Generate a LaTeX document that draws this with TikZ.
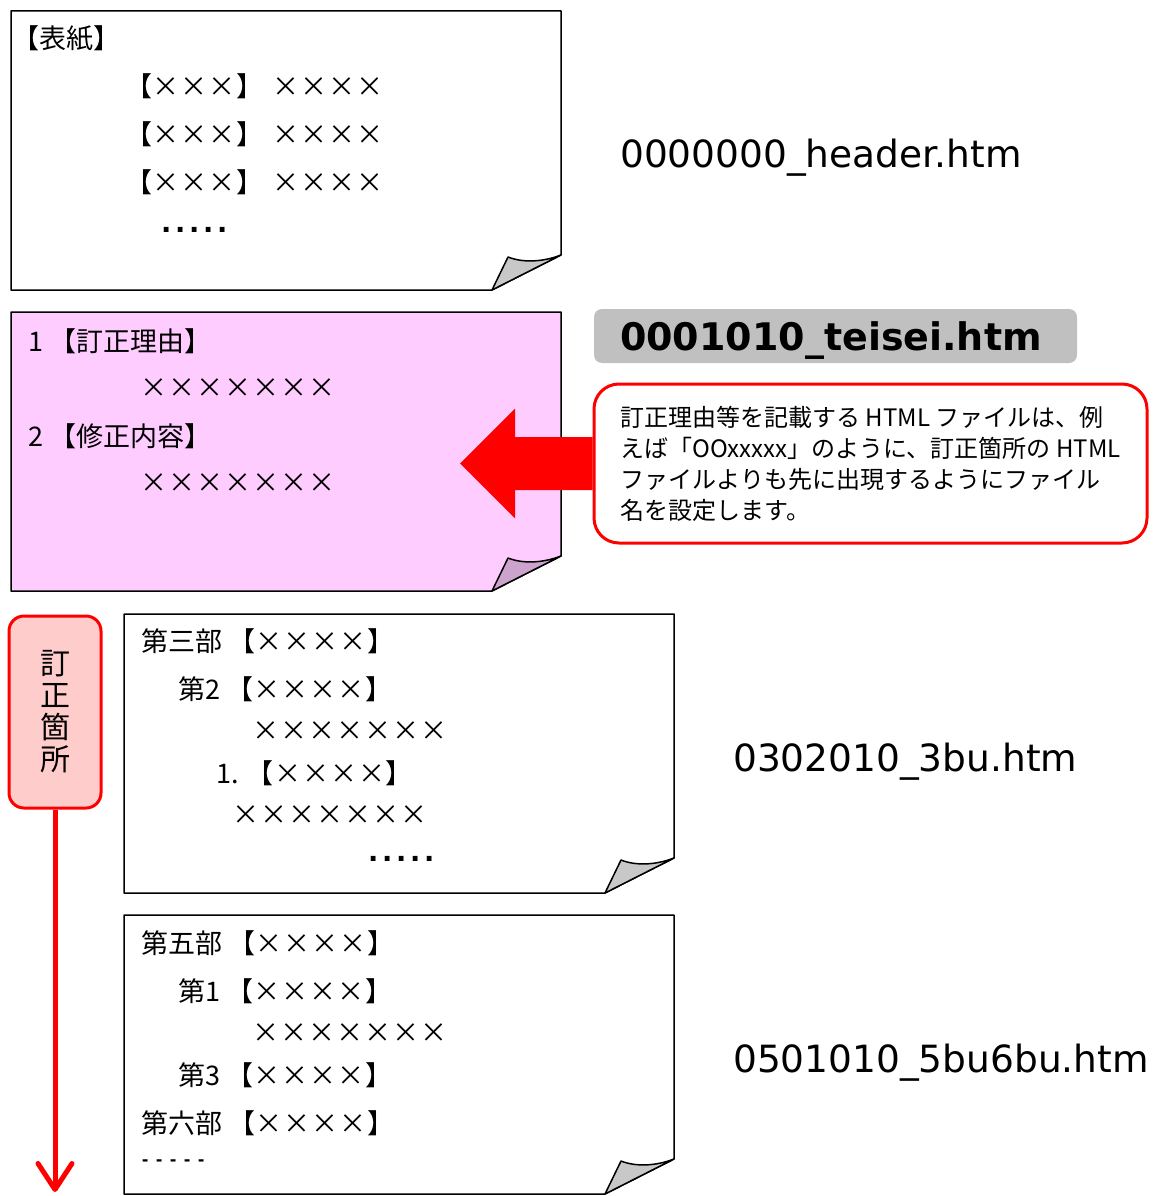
\documentclass[tikz,border=0pt]{standalone}
\usepackage{fontspec}
\setmainfont{DejaVu Sans}
\newfontfamily\jpfont{Noto Sans CJK JP}
\usetikzlibrary{arrows.meta, calc, positioning}
\definecolor{notered}{RGB}{255,0,0}
\definecolor{pagepink}{RGB}{255,204,255}
\definecolor{foldpink}{RGB}{204,163,204}
\definecolor{foldgray}{RGB}{200,200,200}
\definecolor{tagpink}{RGB}{255,204,204}
\definecolor{namegray}{RGB}{192,192,192}
\tikzset{
  pageline/.style={anchor=west, inner sep=0pt, font=\jpfont\fontsize{27}{30}\selectfont},
  filename/.style={anchor=west, inner sep=0pt, text depth=0pt, font=\fontsize{37.5}{40}\selectfont},
  namebox/.style={rectangle, rounded corners=8pt, fill=namegray, minimum width=483pt, minimum height=54pt, inner sep=0pt, text depth=0pt, text width=431pt, align=left, font=\bfseries\fontsize{38}{40}\selectfont},
  notebox/.style={rectangle, rounded corners=25pt, draw=notered, line width=3pt, fill=white, minimum width=553pt, minimum height=159pt, align=left, inner sep=0pt, font=\jpfont\fontsize{24}{31}\selectfont},
  tagbox/.style={rectangle, rounded corners=15pt, draw=notered, line width=3pt, fill=tagpink, minimum width=92pt, minimum height=192pt, align=center, inner sep=0pt, font=\jpfont\fontsize{30}{32}\selectfont},
  pageedge/.style={draw=black, line width=1.5pt, line join=round},
}
% one sheet with a curled corner
\newcommand{\docpage}[3]{%
  \begin{scope}[shift={(#1)}]
    \filldraw[pageedge, fill=#2] (0,0) -- (550,0) -- (550,244) -- (481,279) -- (0,279) -- cycle;
    \filldraw[pageedge, fill=#3] (481,279) -- (497,246) .. controls (512,252) and (532,251) .. (550,244) -- cycle;
  \end{scope}}
\newcommand{\xs}[1]{\foreach \k in {1,...,#1}{\makebox[28pt]{×}}}
\newcommand{\dotrow}[2]{\foreach \k in {1,...,#2}{\makebox[14pt]{#1}}}
\begin{document}
\begin{tikzpicture}[x=1pt, y=-1pt]
  \useasboundingbox (0,0) rectangle (1153,1196);
  % sheets
  \docpage{11,11}{white}{foldgray}
  \docpage{11,312}{pagepink}{foldpink}
  \docpage{124,614}{white}{foldgray}
  \docpage{124,915}{white}{foldgray}
  % cover
  \node (cover) [pageline] at (12,38) {【表紙】};
  \node (cov1) [pageline] at (125,86) {【\xs{3}】\hspace*{9pt}\xs{4}};
  \node (cov2) [pageline] at (125,134) {【\xs{3}】\hspace*{9pt}\xs{4}};
  \node (cov3) [pageline] at (125,182) {【\xs{3}】\hspace*{9pt}\xs{4}};
  \node (covdots) [pageline] at (159,230) {\dotrow{\normalfont\bfseries .}{5}};
  % correction sheet
  \node (reason) [pageline] at (28,341) {1 【訂正理由】};
  \node (reasonx) [pageline] at (140,388) {\xs{7}};
  \node (change) [pageline] at (28,436) {2 【修正内容】};
  \node (changex) [pageline] at (140,483) {\xs{7}};
  % part 3
  \node (bu3) [pageline] at (141,641) {第三部 【\xs{4}】};
  \node (bu3a) [pageline] at (178,689) {第2 【\xs{4}】};
  \node (bu3b) [pageline] at (252,731) {\xs{7}};
  \node (bu3c) [pageline] at (216,773) {1. 【\xs{4}】};
  \node (bu3d) [pageline] at (232,815) {\xs{7}};
  \node (bu3dots) [pageline] at (366,859) {\dotrow{\normalfont\bfseries .}{5}};
  % parts 5 and 6
  \node (bu5) [pageline] at (141,943) {第五部 【\xs{4}】};
  \node (bu5a) [pageline] at (178,991) {第1 【\xs{4}】};
  \node (bu5b) [pageline] at (252,1033) {\xs{7}};
  \node (bu5c) [pageline] at (178,1075) {第3 【\xs{4}】};
  \node (bu6) [pageline] at (141,1123) {第六部 【\xs{4}】};
  \node (bu6dots) [pageline] at (138,1163) {\dotrow{\normalfont\bfseries\fontsize{16}{16}\selectfont -}{5}};
  % file names
  \node (hdr) [filename] at (620,153) {0000000\_header.htm};
  \node (teisei) [namebox] at (835.5,336) {0001010\_teisei.htm};
  \node (bu3file) [filename] at (733,757) {0302010\_3bu.htm};
  \node (bu5file) [filename] at (733,1058) {0501010\_5bu6bu.htm};
  % note and arrow
  \node (note) [notebox] at (870.5,463.5) {訂正理由等を記載する HTML ファイルは、例\\えば「OOxxxxx」のように、訂正箇所の HTML\\ファイルよりも先に出現するようにファイル\\名を設定します。};
  \coordinate (tip) at (460,463.5);
  \fill[notered] (tip) -- ++(55,-55) -- ++(0,28.5) -- ($(note.west)+(0,-26.5)$)
    -- ($(note.west)+(0,26.5)$) -- ($(tip)+(55,26.5)$) -- ($(tip)+(55,55)$) -- cycle;
  % corrected range
  \node (tag) [tagbox] at (55,712) {訂\\正\\箇\\所};
  \coordinate (tagend) at (55,1192);
  \draw[notered, line width=5pt, -{Straight Barb[length=26pt, width=34pt, line width=5pt, round]}] (tag.south) -- (tagend);
\end{tikzpicture}
\end{document}
